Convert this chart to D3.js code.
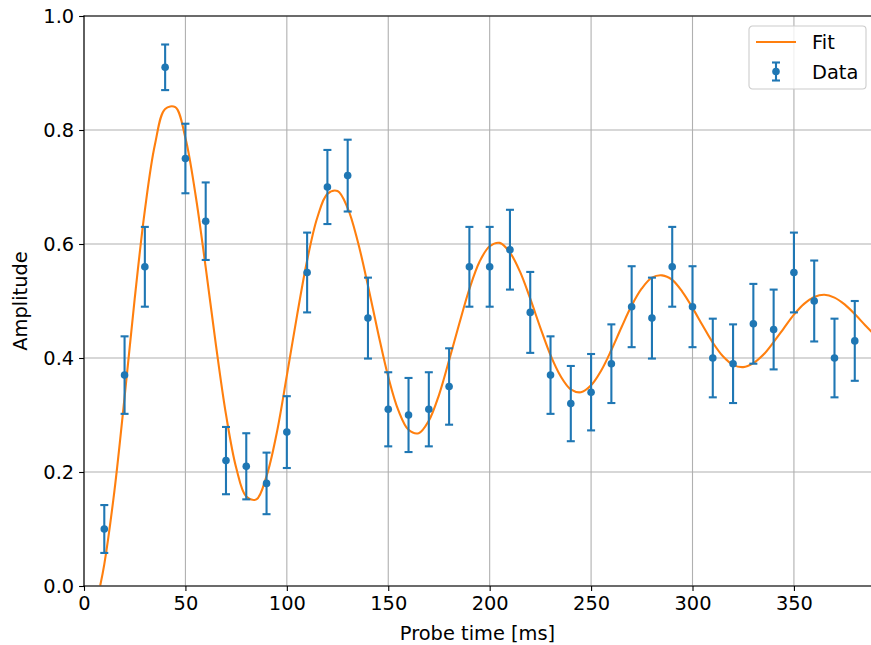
<!DOCTYPE html>
<html>
<head>
<meta charset="utf-8">
<script src="https://cdn.jsdelivr.net/npm/d3@7"></script>
<style>
  html, body { margin: 0; padding: 0; background: #fff; }
  svg { display: block; font-family: "DejaVu Sans", sans-serif; }
</style>
</head>
<body>
<svg id="chart" width="871" height="645"></svg>
<script>
// Measured amplitudes per probe time, with their error bars
const probeTimes = [10,20,30,40,50,60,70,80,90,100,110,120,130,140,150,160,170,180,190,200,
                    210,220,230,240,250,260,270,280,290,300,310,320,330,340,350,360,370,380];
const amplitudes = [0.10,0.37,0.56,0.91,0.75,0.64,0.22,0.21,0.18,0.27,0.55,0.70,0.72,0.47,0.31,0.30,0.31,0.35,0.56,0.56,
                    0.59,0.48,0.37,0.32,0.34,0.39,0.49,0.47,0.56,0.49,0.40,0.39,0.46,0.45,0.55,0.50,0.40,0.43];
const errors = [0.042,0.068,0.070,0.040,0.061,0.068,0.059,0.058,0.054,0.063,0.070,0.065,0.063,0.071,0.065,0.065,0.065,0.067,0.070,0.070,
                0.070,0.071,0.068,0.066,0.067,0.069,0.071,0.071,0.070,0.071,0.069,0.069,0.070,0.070,0.070,0.071,0.069,0.070];

// Damped-oscillation fit, sampled along the probe-time axis
const fitTimes = [8,10,15,20,25,30,35,40,45,50,55,60,65,70,75,80,85,90,95,100,105,110,115,120,125,130,135,140,145,150,
                  155,160,165,170,175,180,185,190,195,200,205,210,215,220,225,230,235,240,245,250,255,260,265,270,275,
                  280,285,290,295,300,305,310,315,320,325,330,335,340,345,350,355,360,365,370,375,380,385,390];
const fitValues = [0.001,0.038,0.167,0.331,0.504,0.659,0.775,0.837,0.840,0.786,0.686,0.559,0.424,0.301,0.208,0.157,0.152,0.193,0.268,0.369,
                   0.474,0.571,0.646,0.688,0.693,0.663,0.604,0.527,0.444,0.367,0.308,0.274,0.268,0.290,0.335,0.396,0.460,0.521,0.569,0.596,
                   0.602,0.585,0.551,0.504,0.453,0.405,0.368,0.345,0.340,0.352,0.378,0.414,0.454,0.492,0.522,0.541,0.545,0.537,0.516,0.488,
                   0.457,0.427,0.403,0.388,0.384,0.391,0.406,0.428,0.452,0.476,0.495,0.507,0.511,0.506,0.494,0.477,0.458,0.440];

const xTicks = [0,50,100,150,200,250,300,350];
const yTicks = [0.0,0.2,0.4,0.6,0.8,1.0];

const blue = "#1f77b4", orange = "#ff7f0e";
const fontSize = "19.4px";
const margin = { left: 84, right: 0, top: 16, bottom: 59 };
const W = 871, H = 645;
const svg = d3.select("#chart");

const x = d3.scaleLinear().domain([0, 388]).range([margin.left, W - margin.right]);
const y = d3.scaleLinear().domain([0, 1]).range([H - margin.bottom, margin.top]);

svg.append("defs").append("clipPath").attr("id", "plot-clip")
  .append("rect")
  .attr("x", x.range()[0]).attr("y", y.range()[1])
  .attr("width", x.range()[1] - x.range()[0])
  .attr("height", y.range()[0] - y.range()[1]);

// Grid
const grid = svg.append("g");
grid.selectAll("line.gx").data(xTicks).join("line")
  .attr("x1", d => x(d)).attr("x2", d => x(d))
  .attr("y1", y(0)).attr("y2", y(1))
  .attr("stroke", "#b0b0b0").attr("stroke-width", 1.1);
grid.selectAll("line.gy").data(yTicks).join("line")
  .attr("x1", x(0)).attr("x2", W)
  .attr("y1", d => y(d)).attr("y2", d => y(d))
  .attr("stroke", "#b0b0b0").attr("stroke-width", 1.1);

const plot = svg.append("g").attr("clip-path", "url(#plot-clip)");

// Fit curve
const line = d3.line()
  .x((d, i) => x(fitTimes[i]))
  .y(d => y(d))
  .curve(d3.curveCatmullRom);
plot.append("path")
  .datum(fitValues)
  .attr("d", line)
  .attr("fill", "none")
  .attr("stroke", orange)
  .attr("stroke-width", 2.1);

// Error bars and points
const cap = 4;
const eb = plot.append("g").selectAll("g").data(probeTimes).join("g");
eb.append("line")
  .attr("x1", d => x(d)).attr("x2", d => x(d))
  .attr("y1", (d, i) => y(amplitudes[i] - errors[i]))
  .attr("y2", (d, i) => y(amplitudes[i] + errors[i]))
  .attr("stroke", blue).attr("stroke-width", 2.1);
eb.selectAll("line.cap").data((d, i) => [[d, amplitudes[i] - errors[i]], [d, amplitudes[i] + errors[i]]])
  .join("line").attr("class", "cap")
  .attr("x1", d => x(d[0]) - cap).attr("x2", d => x(d[0]) + cap)
  .attr("y1", d => y(d[1])).attr("y2", d => y(d[1]))
  .attr("stroke", blue).attr("stroke-width", 2.1);
eb.append("circle")
  .attr("cx", d => x(d))
  .attr("cy", (d, i) => y(amplitudes[i]))
  .attr("r", 3.8)
  .attr("fill", blue);

// Axes
const xAxis = d3.axisBottom(x).tickValues(xTicks).tickFormat(d3.format("d")).tickSize(4.9).tickPadding(4.9);
const yAxis = d3.axisLeft(y).tickValues(yTicks).tickFormat(d3.format(".1f")).tickSize(4.9).tickPadding(4.9);

const gx = svg.append("g").attr("transform", `translate(0,${y(0)})`).call(xAxis);
const gy = svg.append("g").attr("transform", `translate(${x(0)},0)`).call(yAxis);
[gx, gy].forEach(g => {
  g.select(".domain").remove();
  g.selectAll(".tick line").attr("stroke", "#000").attr("stroke-width", 1.1);
  g.selectAll(".tick text").attr("fill", "#000").attr("font-size", fontSize)
    .attr("font-family", "DejaVu Sans, sans-serif");
});

// Spines (left, bottom, top)
svg.append("line").attr("x1", x(0)).attr("x2", x(0)).attr("y1", y(0)).attr("y2", y(1))
  .attr("stroke", "#000").attr("stroke-width", 1.1).attr("stroke-linecap", "square");
svg.append("line").attr("x1", x(0)).attr("x2", W).attr("y1", y(0)).attr("y2", y(0))
  .attr("stroke", "#000").attr("stroke-width", 1.1).attr("stroke-linecap", "square");
svg.append("line").attr("x1", x(0)).attr("x2", W).attr("y1", y(1)).attr("y2", y(1))
  .attr("stroke", "#000").attr("stroke-width", 1.1).attr("stroke-linecap", "square");

// Axis titles
svg.append("text")
  .attr("x", (x.range()[0] + x.range()[1]) / 2).attr("y", 640)
  .attr("text-anchor", "middle").attr("font-size", fontSize).attr("fill", "#000")
  .text("Probe time [ms]");
svg.append("text")
  .attr("transform", `translate(27,${(y(0) + y(1)) / 2}) rotate(-90)`)
  .attr("text-anchor", "middle").attr("font-size", fontSize).attr("fill", "#000")
  .text("Amplitude");

// Legend
const lg = svg.append("g").attr("transform", "translate(749,26)");
lg.append("rect")
  .attr("x", 0).attr("y", 0).attr("width", 117).attr("height", 63)
  .attr("rx", 3.5).attr("ry", 3.5)
  .attr("fill", "#fff").attr("fill-opacity", 0.8)
  .attr("stroke", "#cccccc").attr("stroke-width", 1.1);
lg.append("line").attr("x1", 7).attr("x2", 47).attr("y1", 16).attr("y2", 16)
  .attr("stroke", orange).attr("stroke-width", 2.1);
lg.append("text").attr("x", 63).attr("y", 23).attr("font-size", fontSize).attr("fill", "#000").text("Fit");
const lx = 27, ly = 45.5;
lg.append("line").attr("x1", lx).attr("x2", lx).attr("y1", ly - 9).attr("y2", ly + 9)
  .attr("stroke", blue).attr("stroke-width", 2.1);
lg.append("line").attr("x1", lx - cap).attr("x2", lx + cap).attr("y1", ly - 9).attr("y2", ly - 9)
  .attr("stroke", blue).attr("stroke-width", 2.1);
lg.append("line").attr("x1", lx - cap).attr("x2", lx + cap).attr("y1", ly + 9).attr("y2", ly + 9)
  .attr("stroke", blue).attr("stroke-width", 2.1);
lg.append("circle").attr("cx", lx).attr("cy", ly).attr("r", 3.8).attr("fill", blue);
lg.append("text").attr("x", 63).attr("y", 52.5).attr("font-size", fontSize).attr("fill", "#000").text("Data");
</script>
</body>
</html>
